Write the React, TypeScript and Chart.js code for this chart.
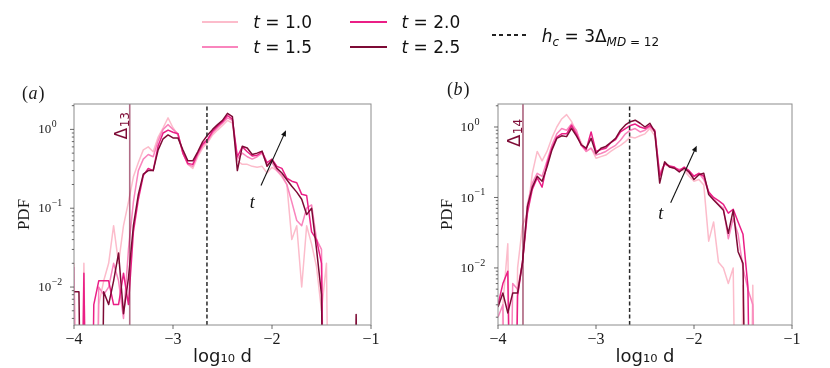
import React, { useEffect, useRef } from 'react';
import { Chart, registerables } from 'chart.js';

Chart.register(...registerables);

// ---------------- data ----------------
const X_GRID = [-4.00, -3.95, -3.90, -3.85, -3.80, -3.75, -3.70, -3.65, -3.60, -3.55, -3.50, -3.45,
  -3.40, -3.35, -3.30, -3.25, -3.20, -3.15, -3.10, -3.05, -3.00, -2.95, -2.90,
  -2.85, -2.80, -2.75, -2.70, -2.65, -2.60, -2.55, -2.50, -2.45, -2.40,
  -2.35, -2.30, -2.25, -2.20, -2.15, -2.10, -2.05, -2.00, -1.95, -1.90, -1.85,
  -1.80, -1.75, -1.70, -1.65, -1.60, -1.55, -1.50, -1.45,
  -1.40, -1.35, -1.30, -1.25, -1.20, -1.15, -1.10, -1.05, -1.00];

// panel (a)
const A_T10 = [0.02, 0, 0.02, 0, 0, 0.006, 0.012, 0.02, 0.06, 0.02, 0.06, 0.12,
  0.25, 0.38, 0.55, 0.6, 0.52, 0.8, 1.05, 1.4, 1.05, 0.85, 0.5,
  0.36, 0.32, 0.45, 0.58, 0.68, 0.85, 0.98, 1.12, 1.3, 1.2,
  0.4, 0.36, 0.36, 0.34, 0.33, 0.34, 0.28, 0.33, 0.3, 0.25, 0.2,
  0.04, 0.06, 0.01, 0.06, 0.035, 0.018, 0.005, 0.02,
  0, 0, 0, 0, 0, 0, 0, 0, 0];
const A_T15 = [0.018, 0, 0, 0, 0, 0.01, 0.008, 0.01, 0.02, 0.012, 0.004, 0.03,
  0.12, 0.3, 0.42, 0.48, 0.45, 0.72, 1.0, 1.15, 1.0, 0.88, 0.5,
  0.36, 0.34, 0.48, 0.62, 0.72, 0.9, 1.05, 1.2, 1.4, 1.3,
  0.42, 0.5, 0.45, 0.42, 0.45, 0.5, 0.36, 0.38, 0.3, 0.26, 0.2,
  0.12, 0.07, 0.06, 0.1, 0.11, 0.04, 0.03, 0,
  0, 0, 0, 0, 0, 0, 0, 0, 0];
const A_T20 = [0, 0, 0.015, 0, 0.006, 0.012, 0.012, 0.012, 0.006, 0.006, 0.015, 0.006,
  0.05, 0.13, 0.26, 0.32, 0.3, 0.62, 0.9, 0.98, 0.92, 0.88, 0.5,
  0.37, 0.36, 0.5, 0.65, 0.75, 0.95, 1.1, 1.25, 1.5, 1.35,
  0.45, 0.6, 0.52, 0.46, 0.47, 0.52, 0.38, 0.42, 0.34, 0.32, 0.24,
  0.22, 0.21, 0.15, 0.145, 0.05, 0.04, 0.02, 0,
  0, 0, 0, 0, 0, 0, 0, 0, 0];
const A_T25 = [0.0087, 0.0087, 0, 0, 0, 0, 0.0087, 0.006, 0.012, 0.027, 0.0046, 0.013,
  0.06, 0.15, 0.27, 0.3, 0.3, 0.55, 0.76, 0.85, 0.78, 0.78, 0.55,
  0.4, 0.4, 0.52, 0.7, 0.85, 1.0, 1.15, 1.3, 1.6, 1.45,
  0.3, 0.61, 0.58, 0.48, 0.5, 0.53, 0.34, 0.41, 0.32, 0.28, 0.23,
  0.19, 0.16, 0.13, 0.083, 0.1, 0.03, 0.008, 0,
  0, 0, 0, 0, 0, 0.0045, 0, 0, 0];

// panel (b)
const B_T10 = [0, 0.003, 0.022, 0, 0.01, 0.04, 0.06, 0.22, 0.45, 0.33, 0.45, 0.7,
  1.0, 1.3, 1.5, 1.2, 0.85, 0.6, 0.45, 0.5, 0.36, 0.38, 0.4,
  0.45, 0.5, 0.55, 0.62, 0.72, 0.7, 0.75, 0.8, 0.95, 0.75,
  0.2, 0.3, 0.27, 0.26, 0.25, 0.24, 0.2, 0.17, 0.18, 0.15,
  0.024, 0.045, 0.012, 0.01, 0.006, 0.01, 0, 0.0057, 0,
  0.0057, 0, 0, 0, 0, 0, 0, 0, 0];
const B_T15 = [0.002, 0.003, 0, 0.006, 0.005, 0.012, 0.08, 0.16, 0.22, 0.2, 0.33, 0.55,
  0.8, 0.95, 0.9, 1.1, 0.9, 0.55, 0.45, 0.5, 0.4, 0.42, 0.45,
  0.5, 0.55, 0.65, 0.8, 0.9, 0.95, 0.85, 0.9, 1.0, 0.85,
  0.22, 0.3, 0.28, 0.26, 0.25, 0.26, 0.22, 0.2, 0.22, 0.18,
  0.12, 0.095, 0.08, 0.07, 0.026, 0.05, 0.03, 0.01, 0.005,
  0.003, 0, 0, 0, 0, 0, 0, 0, 0];
const B_T20 = [0.003, 0.006, 0.009, 0, 0.004, 0.012, 0.06, 0.13, 0.19, 0.14, 0.3, 0.5,
  0.72, 0.8, 0.8, 1.05, 0.8, 0.55, 0.48, 0.85, 0.45, 0.48, 0.5,
  0.6, 0.66, 0.85, 0.95, 1.05, 1.1, 1.0, 0.95, 1.05, 0.9,
  0.2, 0.3, 0.28, 0.27, 0.24, 0.27, 0.24, 0.2, 0.22, 0.2,
  0.12, 0.1, 0.09, 0.08, 0.06, 0.068, 0.045, 0.03, 0.0055,
  0, 0, 0, 0, 0, 0, 0, 0, 0];
const B_T25 = [0.0028, 0.0044, 0.0023, 0.0044, 0.0044, 0.012, 0.074, 0.14, 0.2, 0.17, 0.27, 0.47,
  0.69, 0.75, 0.73, 0.96, 0.75, 0.56, 0.5, 0.69, 0.42, 0.5, 0.53,
  0.6, 0.69, 0.9, 1.07, 1.19, 1.25, 1.13, 1.0, 1.13, 0.85,
  0.16, 0.32, 0.27, 0.26, 0.23, 0.26, 0.23, 0.18, 0.21, 0.22,
  0.11, 0.092, 0.078, 0.066, 0.031, 0.066, 0.017, 0.0116, 0,
  0, 0, 0, 0, 0, 0, 0, 0, 0];

const T_LABELS = ['1.0', '1.5', '2.0', '2.5'];
const COLORS = ['#fcbccb', '#f985bd', '#ea1f86', '#7d0a35'];

const HC = -2.657;          // h_c = 3 Δ_{MD=12}
const DELTA_A = -3.437;     // Δ13
const DELTA_B = -3.745;     // Δ14
const YLIM_A = [0.0033, 2.1];
const YLIM_B = [0.00155, 2.12];
const X_TICKS = [-4, -3, -2, -1];
const Y_TICK_EXP = [0, -1, -2];

const ARROW_A = { from: [-2.111, 0.194], to: [-1.859, 0.975], label: [-2.2, 0.117] };
const ARROW_B = { from: [-2.238, 0.084], to: [-1.972, 0.543], label: [-2.34, 0.058] };

const ZERO_FLOOR = 1e-7;

// ---------------- drawing ----------------
type PanelSpec = {
  key: string; offset: number; areaLeft: number; padRight: number;
  ylim: number[]; series: number[][]; delta: number; deltaSub: string;
  deltaY: number; deltaColor: string; deltaWidth: number; deltaFont: number; deltaSubFont: number;
  arrow: { from: number[]; to: number[]; label: number[] };
  ylabOffset: number; ylabFont: number; titlePad: number;
  panelLabel: string; panelLabelX: number; panelLabelY: number;
};

const PANELS: PanelSpec[] = [
  {
    key: 'a', offset: 0, areaLeft: 74, padRight: 44, ylim: YLIM_A,
    series: [A_T10, A_T15, A_T20, A_T25], delta: DELTA_A, deltaSub: '13', deltaY: 0.746,
    deltaColor: 'rgba(125,10,53,0.6)', deltaWidth: 1.6, deltaFont: 17, deltaSubFont: 12,
    arrow: ARROW_A, ylabOffset: 35.7, ylabFont: 13, titlePad: 14,
    panelLabel: 'a', panelLabelX: 22, panelLabelY: 94,
  },
  {
    key: 'b', offset: 415, areaLeft: 83, padRight: 38, ylim: YLIM_B,
    series: [B_T10, B_T15, B_T20, B_T25], delta: DELTA_B, deltaSub: '14', deltaY: 0.52,
    deltaColor: 'rgba(125,10,53,0.85)', deltaWidth: 1.2, deltaFont: 18, deltaSubFont: 12,
    arrow: ARROW_B, ylabOffset: 37.5, ylabFont: 13.5, titlePad: 22,
    panelLabel: 'b', panelLabelX: 32, panelLabelY: 90,
  },
];

const FRAME_COLOR = '#8c8c8c';
const TICK_COLOR = '#444';
const TEXT_COLOR = '#1a1a1a';

function toPoints(vals: number[]) {
  return X_GRID.map((x, i) => ({ x, y: vals[i] > 0 ? vals[i] : ZERO_FLOOR }));
}

function vline(x: number, ylim: number[], color: string, width: number, dash: number[]) {
  return {
    data: [{ x, y: ylim[0] }, { x, y: ylim[1] }],
    borderColor: color, borderWidth: width, borderDash: dash,
    pointRadius: 0, fill: false, tension: 0,
  };
}

function decor(p: PanelSpec) {
  return {
    id: 'decor_' + p.key,
    afterDraw(chart: any) {
      const { ctx, chartArea } = chart;
      const xs = chart.scales.x;
      const ys = chart.scales.y;
      const { left, right, top, bottom } = chartArea;
      ctx.save();

      // frame
      ctx.strokeStyle = FRAME_COLOR;
      ctx.lineWidth = 1;
      ctx.strokeRect(left, top, right - left, bottom - top);

      // tick marks
      ctx.strokeStyle = TICK_COLOR;
      ctx.lineWidth = 0.8;
      ctx.beginPath();
      for (const v of X_TICKS) {
        const px = xs.getPixelForValue(v);
        ctx.moveTo(px, bottom);
        ctx.lineTo(px, bottom + 4);
      }
      for (let e = -4; e <= 1; e++) {
        for (let k = 1; k <= 9; k++) {
          const v = k * Math.pow(10, e);
          if (v < ys.min || v > ys.max) continue;
          const py = ys.getPixelForValue(v);
          ctx.moveTo(left, py);
          ctx.lineTo(left - (k === 1 ? 4 : 2.2), py);
        }
      }
      ctx.stroke();

      // y tick labels 10^n
      ctx.fillStyle = TEXT_COLOR;
      ctx.textAlign = 'left';
      ctx.textBaseline = 'middle';
      for (const e of Y_TICK_EXP) {
        const v = Math.pow(10, e);
        if (v < ys.min || v > ys.max) continue;
        const py = ys.getPixelForValue(v);
        const lx = left - p.ylabOffset;
        ctx.font = `${p.ylabFont}px "Liberation Serif"`;
        ctx.fillText('10', lx, py + 0.5);
        const w = ctx.measureText('10').width;
        ctx.font = `${p.ylabFont * 0.75}px "Liberation Serif"`;
        ctx.fillText(e === 0 ? '0' : '\u2212' + Math.abs(e), lx + w + 0.5, py - 5);
      }

      // arrow with t
      const a = p.arrow;
      const x0 = xs.getPixelForValue(a.from[0]);
      const y0 = ys.getPixelForValue(a.from[1]);
      const x1 = xs.getPixelForValue(a.to[0]);
      const y1 = ys.getPixelForValue(a.to[1]);
      const ang = Math.atan2(y1 - y0, x1 - x0);
      const hl = 6, hw = 2.6;
      ctx.strokeStyle = '#111';
      ctx.fillStyle = '#111';
      ctx.lineWidth = 1.1;
      ctx.beginPath();
      ctx.moveTo(x0, y0);
      ctx.lineTo(x1 - Math.cos(ang) * hl * 0.8, y1 - Math.sin(ang) * hl * 0.8);
      ctx.stroke();
      ctx.beginPath();
      ctx.moveTo(x1, y1);
      ctx.lineTo(x1 - Math.cos(ang) * hl - Math.sin(ang) * hw, y1 - Math.sin(ang) * hl + Math.cos(ang) * hw);
      ctx.lineTo(x1 - Math.cos(ang) * hl + Math.sin(ang) * hw, y1 - Math.sin(ang) * hl - Math.cos(ang) * hw);
      ctx.closePath();
      ctx.fill();
      ctx.font = 'italic 18px "Liberation Serif"';
      ctx.textAlign = 'center';
      ctx.textBaseline = 'middle';
      ctx.fillText('t', xs.getPixelForValue(a.label[0]), ys.getPixelForValue(a.label[1]));

      // Δ label, rotated
      const dx = xs.getPixelForValue(p.delta) - 3;
      const dy = ys.getPixelForValue(p.deltaY);
      ctx.save();
      ctx.translate(dx, dy);
      ctx.rotate(-Math.PI / 2);
      ctx.fillStyle = '#7d0a35';
      ctx.textAlign = 'left';
      ctx.textBaseline = 'alphabetic';
      ctx.font = `${p.deltaFont}px "DejaVu Sans"`;
      ctx.fillText('\u0394', 0, 0);
      const dw = ctx.measureText('\u0394').width;
      ctx.font = `${p.deltaSubFont}px "DejaVu Sans"`;
      ctx.fillText(p.deltaSub, dw + 0.5, 2);
      ctx.restore();

      // panel label (a)/(b)
      ctx.fillStyle = TEXT_COLOR;
      ctx.textAlign = 'left';
      ctx.textBaseline = 'middle';
      let lx = p.panelLabelX;
      ctx.font = '18px "Liberation Serif"';
      ctx.fillText('(', lx, p.panelLabelY);
      lx += ctx.measureText('(').width + 0.5;
      ctx.font = 'italic 18px "Liberation Serif"';
      ctx.fillText(p.panelLabel, lx, p.panelLabelY);
      lx += ctx.measureText(p.panelLabel).width + 1;
      ctx.font = '18px "Liberation Serif"';
      ctx.fillText(')', lx, p.panelLabelY);

      ctx.restore();
    },
  };
}

function Panel({ p }: { p: PanelSpec }) {
  const ref = useRef<HTMLCanvasElement>(null);
  useEffect(() => {
    const canvas = ref.current;
    if (!canvas) return;
    const datasets: any[] = [
      vline(p.delta, p.ylim, p.deltaColor, p.deltaWidth, []),
      vline(HC, p.ylim, '#2a2a2a', 1.5, [4, 2.5]),
      ...[3, 2, 1, 0].map((i) => ({
        data: toPoints(p.series[i]),
        borderColor: COLORS[i],
        borderWidth: 1.5,
        borderJoinStyle: 'round',
        pointRadius: 0,
        tension: 0,
        fill: false,
      })),
    ];
    const chart = new Chart(canvas, {
      type: 'line',
      data: { datasets },
      options: {
        responsive: false,
        animation: false,
        events: [],
        layout: { padding: { left: 0, top: 104, right: p.padRight, bottom: 0 } },
        plugins: { legend: { display: false }, tooltip: { enabled: false }, title: { display: false } },
        scales: {
          x: {
            type: 'linear', min: -4, max: -1,
            afterBuildTicks: (s: any) => { s.ticks = X_TICKS.map((v) => ({ value: v })); },
            afterFit: (s: any) => { s.height = 43; },
            grid: { display: false, drawTicks: false },
            border: { display: false },
            ticks: {
              padding: 5, autoSkip: false, maxRotation: 0, color: TEXT_COLOR,
              font: { family: 'Liberation Serif', size: 16 },
              callback: (v: any) => (v < 0 ? '\u2212' + Math.abs(v) : String(v)),
            },
            title: {
              display: true, text: 'log\u2081\u2080 d', color: TEXT_COLOR,
              font: { family: 'DejaVu Sans', size: 18 }, padding: { top: 0, bottom: 0 },
            },
          },
          y: {
            type: 'logarithmic', min: p.ylim[0], max: p.ylim[1],
            afterFit: (s: any) => { s.width = p.areaLeft; },
            grid: { display: false, drawTicks: false },
            border: { display: false },
            ticks: { display: false },
            title: {
              display: true, text: 'PDF', color: TEXT_COLOR,
              font: { family: 'Liberation Serif', size: 17 }, padding: { top: p.titlePad, bottom: 0 },
            },
          },
        },
      } as any,
      plugins: [decor(p)],
    });
    return () => chart.destroy();
  }, [p]);
  return (
    <canvas
      ref={ref}
      width={415}
      height={368}
      style={{ position: 'absolute', left: p.offset, top: 0, width: 415, height: 368 }}
    />
  );
}

function Legend() {
  const font: React.CSSProperties = {
    position: 'absolute', fontFamily: '"DejaVu Sans", sans-serif', fontSize: 17,
    lineHeight: '20px', color: '#111', whiteSpace: 'nowrap',
  };
  const colX = [201.7, 350];
  const rowY = [21.7, 46.7];
  const sub: React.CSSProperties = { position: 'relative', top: 4, fontSize: 12 };
  return (
    <>
      {T_LABELS.map((lab, i) => {
        const col = i < 2 ? 0 : 1;
        const row = i % 2;
        const lx = colX[col];
        const ly = rowY[row];
        return (
          <React.Fragment key={lab}>
            <div style={{ position: 'absolute', left: lx, top: ly - 1, width: 36.7, height: 2, background: COLORS[i] }} />
            <div style={{ ...font, left: lx + 51.5, top: ly + 6 - 16 }}>
              <i>t</i> = {lab}
            </div>
          </React.Fragment>
        );
      })}
      <div
        style={{
          position: 'absolute', left: 491.7, top: 34.2, width: 36.6, height: 1.5,
          background: 'repeating-linear-gradient(90deg, #222 0px, #222 4px, transparent 4px, transparent 7.5px)',
        }}
      />
      <div style={{ ...font, left: 541.7, top: 41.7 - 16 }}>
        <i>h</i><span style={sub}><i>c</i></span> = 3Δ<span style={sub}><i>MD</i> = 12</span>
      </div>
    </>
  );
}

export default function App() {
  return (
    <div style={{ position: 'fixed', left: 0, top: 0, width: 830, height: 368, background: '#fff', overflow: 'hidden' }}>
      {PANELS.map((p) => (
        <Panel key={p.key} p={p} />
      ))}
      <Legend />
    </div>
  );
}
